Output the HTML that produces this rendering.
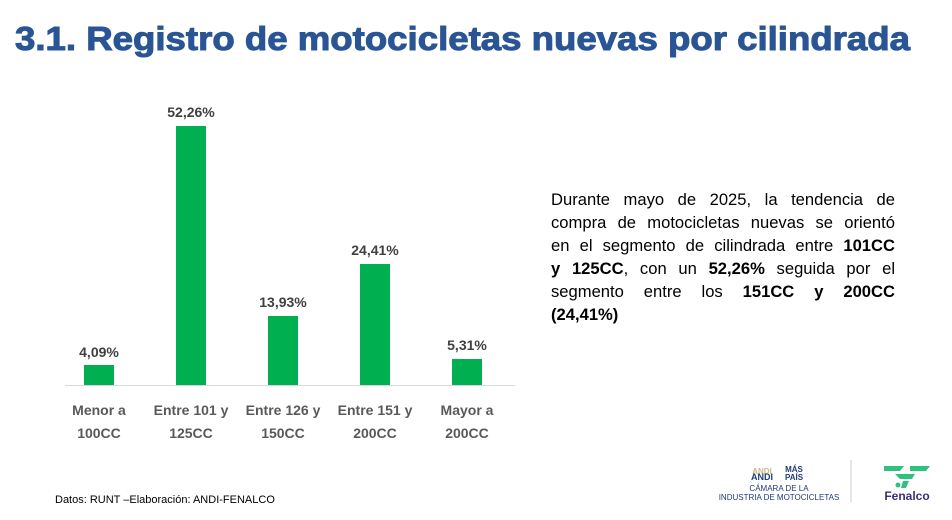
<!DOCTYPE html>
<html><head><meta charset="utf-8"><style>
body{margin:0;width:952px;height:520px;background:#fff;position:relative;overflow:hidden;font-family:"Liberation Sans",Arial,sans-serif}
.p{position:absolute;left:551px;top:188px;width:344px;font-size:16.6px;line-height:23px;color:#000}
.p div{text-align:justify;text-align-last:justify;white-space:nowrap}
.p div.l{text-align-last:left}
.foot{position:absolute;left:55px;top:494px;font-size:11px;color:#000}
</style></head><body>
<svg width="952" height="520" style="position:absolute;left:0;top:0">
<text x="15" y="50" font-family="Liberation Sans" font-weight="bold" font-size="33" fill="#2a5595" textLength="895" lengthAdjust="spacingAndGlyphs" stroke="#2a5595" stroke-width="1">3.1. Registro de motocicletas nuevas por cilindrada</text>
<line x1="65" y1="385.5" x2="515" y2="385.5" stroke="#d9d9d9" stroke-width="1"/>
<g fill="#00b050">
<rect x="84" y="365" width="30" height="20"/>
<rect x="176" y="126" width="30" height="259"/>
<rect x="268" y="316" width="30" height="69"/>
<rect x="360" y="264" width="30" height="121"/>
<rect x="452" y="359" width="30" height="26"/>
</g>
<g font-family="Liberation Sans" font-weight="bold" font-size="14" fill="#404040" text-anchor="middle">
<text x="99" y="357">4,09%</text>
<text x="191" y="117">52,26%</text>
<text x="283" y="307">13,93%</text>
<text x="375" y="255">24,41%</text>
<text x="467" y="350">5,31%</text>
</g>
<g font-family="Liberation Sans" font-weight="bold" font-size="14" fill="#595959" text-anchor="middle">
<text x="99" y="415">Menor a</text><text x="99" y="438">100CC</text>
<text x="191" y="415">Entre 101 y</text><text x="191" y="438">125CC</text>
<text x="283" y="415">Entre 126 y</text><text x="283" y="438">150CC</text>
<text x="375" y="415">Entre 151 y</text><text x="375" y="438">200CC</text>
<text x="467" y="415">Mayor a</text><text x="467" y="438">200CC</text>
</g>
<g font-family="Liberation Sans" text-anchor="middle">
<text x="762" y="474" font-size="8" font-weight="bold" fill="#c9b98a">ANDI</text>
<text x="794" y="472" font-size="8" font-weight="bold" fill="#1f3a7a">MÁS</text>
<text x="762" y="480" font-size="9" font-weight="bold" fill="#1f3a7a">ANDI</text>
<text x="794" y="480" font-size="8" font-weight="bold" fill="#1f3a7a">PAÍS</text>
<text x="779" y="491" font-size="8" fill="#1f3a7a">CÁMARA DE LA</text>
<text x="779" y="500" font-size="8" fill="#1f3a7a">INDUSTRIA DE MOTOCICLETAS</text>
<line x1="851" y1="460" x2="851" y2="502" stroke="#ccc"/>
<path d="M884 466h20l-4 5h-16zM910 466h20l-4 5h-16zM895 474h20l-3 5h-12zM903 481h6l-3 7h-5z" fill="#2ec27e"/>
<circle cx="898" cy="485" r="2.5" fill="#2ec27e"/>
<text x="907" y="500" font-size="12" font-weight="bold" fill="#3a2f7a">Fenalco</text>
</g>
</svg>
<div class="p">
<div>Durante mayo de 2025, la tendencia de</div>
<div>compra de motocicletas nuevas se orientó</div>
<div>en el segmento de cilindrada entre <b>101CC</b></div>
<div><b>y 125CC</b>, con un <b>52,26%</b> seguida por el</div>
<div>segmento entre los <b>151CC y 200CC</b></div>
<div class="l"><b>(24,41%)</b></div>
</div>
<div class="foot">Datos: RUNT –Elaboración: ANDI-FENALCO</div>
</body></html>
